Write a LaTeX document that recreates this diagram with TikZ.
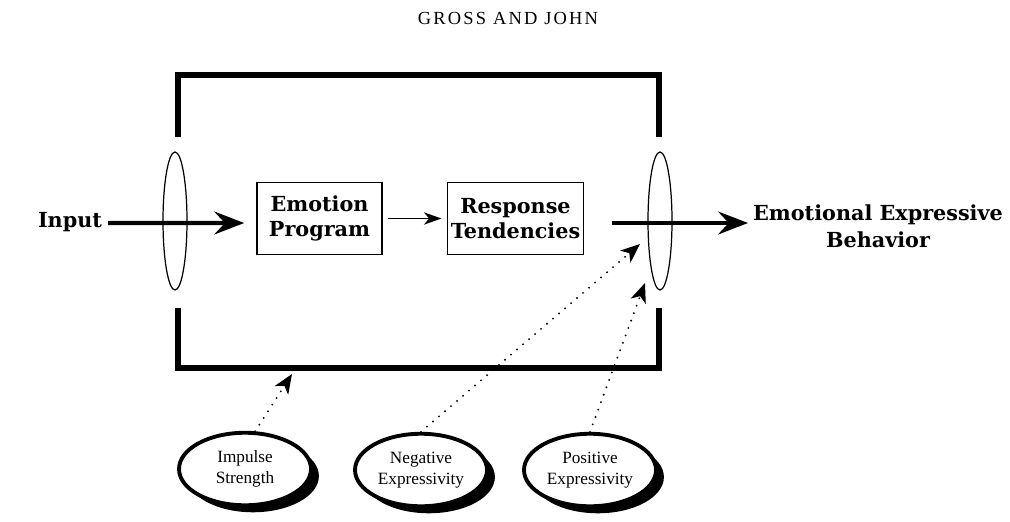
\documentclass[tikz,border=0pt]{standalone}
\usepackage{fontspec}
\setmainfont{DejaVu Serif}
\newfontfamily\capsfont[LetterSpace=12]{Liberation Serif}
\newfontfamily\ovalfont{Liberation Serif}
\usetikzlibrary{arrows.meta,shapes.geometric,shadows}

\begin{document}
\begin{tikzpicture}[x=0.02cm, y=-0.02cm,
    label/.style={font=\bfseries\fontsize{11.8}{15.5}\selectfont, align=center},
    stage/.style={draw, line width=0.6pt, minimum width=2.5cm, minimum height=1.44cm, inner sep=2pt,
      font=\bfseries\fontsize{11.8}{14}\selectfont, align=center},
    lens/.style={ellipse, draw, line width=0.7pt, minimum width=0.48cm, minimum height=2.76cm, inner sep=0pt},
    trait/.style={ellipse, draw, fill=white, line width=2.2pt, minimum width=2.64cm, minimum height=1.45cm,
      inner sep=1pt, font=\ovalfont\fontsize{9.8}{12}\selectfont, align=center,
      drop shadow={shadow xshift=4.5pt, shadow yshift=-4pt, opacity=1, fill=black}},
    frame/.style={line width=3.4pt, miter limit=10},
    bigarrow/.style={-{Stealth[length=17pt, width=13pt, inset=6pt]}, line width=2.3pt},
    smallarrow/.style={-{Stealth[length=10pt, width=7pt, inset=3pt]}, line width=0.8pt},
    dotarrow/.style={-{Stealth[length=11pt, width=9pt, inset=3pt]}, line width=1.2pt, line cap=round,
      dash pattern=on 0pt off 4.5pt}
  ]
  \useasboundingbox (0,0) rectangle (1010,521);

  \node[font=\capsfont\fontsize{10.5}{12}\selectfont] (head) at (508,18) {GROSS AND JOHN};

  % the open box
  \draw[frame] (178,137) -- (178,75) -- (659,75) -- (659,137);
  \draw[frame] (178,308) -- (178,368) -- (659,368) -- (659,308);

  \node[lens] (lensin) at (175,221) {};
  \node[lens] (lensout) at (660,221) {};

  \node[label] (input) at (70,222) {Input};
  \node[stage] (emo) at (319.5,218.5) {Emotion\\Program};
  \node[stage] (resp) at (515.5,218.5) {Response\\Tendencies};
  \node[label] (behav) at (878,226) {Emotional Expressive\\Behavior};
  \coordinate (outstart) at (612,223);

  \draw[bigarrow, shorten >=7pt] (input.east |- 0,223) -- ([yshift=-0.09cm]emo.west);
  \draw[smallarrow, shorten <=3pt, shorten >=3pt] (emo) -- (resp);
  \draw[bigarrow] (outstart) -- (748,223) coordinate (outend);

  \node[trait] (imp) at (245,469) {Impulse\\Strength};
  \node[trait] (neg) at (421,470) {Negative\\Expressivity};
  \node[trait] (pos) at (590,470) {Positive\\Expressivity};

  \coordinate (imptip) at (292,374);
  \coordinate (negtip) at (640,244);
  \coordinate (postip) at (645,283);

  \draw[dotarrow] (imp.75) -- (imptip);
  \draw[dotarrow] (neg.north) -- (negtip);
  \draw[dotarrow] (pos.north) -- (postip);
\end{tikzpicture}
\end{document}
